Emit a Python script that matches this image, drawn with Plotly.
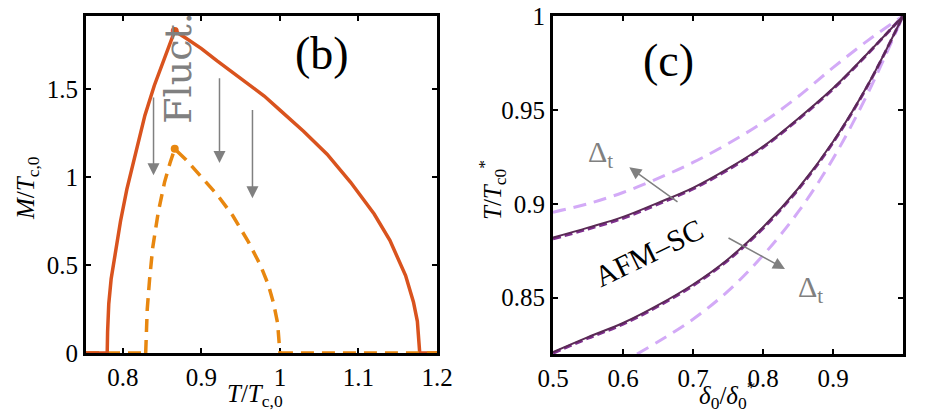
import plotly.graph_objects as go

# ---------------- Panel (b) data ----------------
red_T = [0.753, 0.780, 0.7805, 0.782, 0.785, 0.790, 0.797, 0.805, 0.815, 0.828, 0.840, 0.853, 0.866,
         0.880, 0.900, 0.920, 0.950, 0.980, 1.000, 1.030, 1.060, 1.090, 1.120, 1.140, 1.160, 1.170,
         1.175, 1.178, 1.200]
red_M = [0.0, 0.0, 0.12, 0.28, 0.42, 0.56, 0.75, 0.93, 1.12, 1.35, 1.52, 1.68, 1.83,
         1.79, 1.73, 1.66, 1.56, 1.46, 1.38, 1.26, 1.13, 0.97, 0.79, 0.64, 0.44, 0.29,
         0.18, 0.0, 0.0]
red_peak = [0.866, 1.83]

org_T = [0.829, 0.8295, 0.831, 0.834, 0.838, 0.845, 0.853, 0.860, 0.866,
         0.880, 0.900, 0.920, 0.940, 0.960, 0.975, 0.985, 0.992, 0.997, 1.000]
org_M = [0.0, 0.10, 0.25, 0.42, 0.60, 0.80, 0.97, 1.08, 1.16,
         1.10, 1.00, 0.90, 0.78, 0.63, 0.50, 0.39, 0.28, 0.17, 0.0]
org_zero_left = [0.753, 0.829]
org_zero_right = [1.0, 1.2]
org_peak = [0.866, 1.16]

# arrows: (T, M_tail, M_head)
fluct_arrows = [(0.839, 1.46, 1.01), (0.923, 1.57, 1.08), (0.965, 1.39, 0.88)]

# ---------------- Panel (c) data ----------------
d_x = [0.5, 0.55, 0.6, 0.65, 0.7, 0.75, 0.8, 0.85, 0.9, 0.95, 1.0]
up_solid = [0.882, 0.8873, 0.893, 0.9005, 0.9085, 0.9187, 0.9305, 0.9453, 0.9615, 0.9803, 1.0]
up_dash = [0.8813, 0.8866, 0.8923, 0.8998, 0.9079, 0.9181, 0.9300, 0.9448, 0.9611, 0.9800, 1.0]
lo_solid = [0.821, 0.829, 0.8365, 0.846, 0.857, 0.8705, 0.8875, 0.908, 0.933, 0.9635, 1.0]
lo_dash = [0.8204, 0.8284, 0.8359, 0.8454, 0.8564, 0.8699, 0.8869, 0.9075, 0.9326, 0.9632, 1.0]

lt_up_x = [0.5, 0.55, 0.6, 0.65, 0.7, 0.75, 0.8, 0.85, 0.9, 0.95, 1.0]
lt_up_y = [0.8955, 0.900, 0.906, 0.9135, 0.922, 0.932, 0.9434, 0.957, 0.9725, 0.987, 1.0]
lt_lo_x = [0.62, 0.65, 0.7, 0.75, 0.8, 0.85, 0.9, 0.95, 1.0]
lt_lo_y = [0.82, 0.8265, 0.8385, 0.8535, 0.8725, 0.8955, 0.924, 0.959, 1.0]

RED = "#D9531E"
ORANGE = "#E8870F"
DPURP = "#5A2A55"
MPURP = "#7E2F8E"
LPURP = "#D3AAF7"
GRAY = "#808080"
SERIF = "Liberation Serif"

fig = go.Figure()

# Panel (b)
fig.add_trace(go.Scatter(x=org_zero_left, y=[0, 0], mode="lines", xaxis="x", yaxis="y",
                         line=dict(color=ORANGE, width=3.5, dash="13px,8px"), cliponaxis=False))
fig.add_trace(go.Scatter(x=red_T, y=red_M, mode="lines", xaxis="x", yaxis="y",
                         line=dict(color=RED, width=3.5), cliponaxis=False))
fig.add_trace(go.Scatter(x=org_T, y=org_M, mode="lines", xaxis="x", yaxis="y",
                         line=dict(color=ORANGE, width=3.5, dash="13px,8px"), cliponaxis=False))
fig.add_trace(go.Scatter(x=org_zero_right, y=[0, 0], mode="lines", xaxis="x", yaxis="y",
                         line=dict(color=ORANGE, width=3.5, dash="13px,8px"), cliponaxis=False))
fig.add_trace(go.Scatter(x=[red_peak[0]], y=[red_peak[1]], mode="markers", xaxis="x", yaxis="y",
                         marker=dict(color=RED, size=8), cliponaxis=False))
fig.add_trace(go.Scatter(x=[org_peak[0]], y=[org_peak[1]], mode="markers", xaxis="x", yaxis="y",
                         marker=dict(color=ORANGE, size=8), cliponaxis=False))

# Panel (c)
fig.add_trace(go.Scatter(x=lt_up_x, y=lt_up_y, mode="lines", xaxis="x2", yaxis="y2",
                         line=dict(color=LPURP, width=3, dash="13px,8px", shape="spline")))
fig.add_trace(go.Scatter(x=lt_lo_x, y=lt_lo_y, mode="lines", xaxis="x2", yaxis="y2",
                         line=dict(color=LPURP, width=3, dash="13px,8px", shape="spline")))
fig.add_trace(go.Scatter(x=d_x, y=up_dash, mode="lines", xaxis="x2", yaxis="y2",
                         line=dict(color=MPURP, width=3, dash="8px,4px", shape="spline")))
fig.add_trace(go.Scatter(x=d_x, y=lo_dash, mode="lines", xaxis="x2", yaxis="y2",
                         line=dict(color=MPURP, width=3, dash="8px,4px", shape="spline")))
fig.add_trace(go.Scatter(x=d_x, y=up_solid, mode="lines", xaxis="x2", yaxis="y2",
                         line=dict(color=DPURP, width=2, shape="spline")))
fig.add_trace(go.Scatter(x=d_x, y=lo_solid, mode="lines", xaxis="x2", yaxis="y2",
                         line=dict(color=DPURP, width=2, shape="spline")))

axis_common = dict(showline=True, linecolor="black", linewidth=3, mirror="allticks",
                   ticks="inside", ticklen=5, tickwidth=2, tickcolor="black",
                   showgrid=False, zeroline=False, layer="below traces", automargin=False,
                   tickfont=dict(family=SERIF, size=25, color="black"))

fig.update_layout(
    width=946, height=413,
    margin=dict(l=0, r=0, t=0, b=0, autoexpand=False),
    paper_bgcolor="white", plot_bgcolor="white",
    showlegend=False,
    xaxis=dict(domain=[86 / 946, 437 / 946], range=[0.753, 1.2],
               tickvals=[0.8, 0.9, 1.0, 1.1, 1.2], ticktext=["0.8", "0.9", "1", "1.1", "1.2"],
               anchor="y", **axis_common),
    yaxis=dict(domain=[60 / 413, 397 / 413], range=[0, 1.915],
               tickvals=[0, 0.5, 1, 1.5], ticktext=["0", "0.5", "1", "1.5"],
               anchor="x", **axis_common),
    xaxis2=dict(domain=[553 / 946, 903 / 946], range=[0.5, 1.0],
                tickvals=[0.5, 0.6, 0.7, 0.8, 0.9], ticktext=["0.5", "0.6", "0.7", "0.8", "0.9"],
                anchor="y2", **axis_common),
    yaxis2=dict(domain=[59 / 413, 397 / 413], range=[0.82, 1.0],
                tickvals=[0.85, 0.9, 0.95, 1.0], ticktext=["0.85", "0.9", "0.95", "1"],
                anchor="x2", **axis_common),
)

C = dict(xanchor="center", yanchor="middle", showarrow=False)
ann = []
# axis titles
ann.append(dict(text="<i>T</i>/<i>T</i><sub>c,0</sub>", xref="paper", yref="paper",
                x=255 / 946, y=1 - 395 / 413, font=dict(family=SERIF, size=25, color="black"), **C))
ann.append(dict(text="<i>M</i>/<i>T</i><sub>c,0</sub>", xref="paper", yref="paper",
                x=27 / 946, y=1 - 188 / 413, textangle=-90,
                font=dict(family=SERIF, size=25, color="black"), **C))
ann.append(dict(text="<i>δ</i><sub>0</sub>/<i>δ</i><sub>0</sub><sup>*</sup>", xref="paper", yref="paper",
                x=727 / 946, y=1 - 395 / 413, font=dict(family=SERIF, size=25, color="black"), **C))
ann.append(dict(text="<i>T</i>/<i>T</i><sub>c0</sub><sup>*</sup>", xref="paper", yref="paper",
                x=492 / 946, y=1 - 190 / 413, textangle=-90,
                font=dict(family=SERIF, size=25, color="black"), **C))
# panel labels
ann.append(dict(text="(b)", xref="paper", yref="paper", x=322 / 946, y=1 - 53 / 413,
                font=dict(family=SERIF, size=46, color="black"), **C))
ann.append(dict(text="(c)", xref="paper", yref="paper", x=668 / 946, y=1 - 61 / 413,
                font=dict(family=SERIF, size=46, color="black"), **C))
# Fluct. text
ann.append(dict(text="Fluct.", xref="x", yref="y", x=0.870, y=1.62, textangle=-90,
                font=dict(family="DejaVu Serif", size=38, color=GRAY), **C))
# Fluct arrows
for t, m0, m1 in fluct_arrows:
    ann.append(dict(x=t, y=m1, ax=t, ay=m0, xref="x", yref="y", axref="x", ayref="y",
                    text="", showarrow=True, arrowhead=2, arrowsize=1.6, arrowwidth=1.5,
                    arrowcolor=GRAY))
# Panel (c) arrows
ann.append(dict(x=0.609, y=0.9194, ax=0.68, ay=0.9004, xref="x2", yref="y2", axref="x2", ayref="y2",
                text="", showarrow=True, arrowhead=2, arrowsize=1.6, arrowwidth=1.5, arrowcolor=GRAY))
ann.append(dict(x=0.8314, y=0.8653, ax=0.7486, ay=0.8822, xref="x2", yref="y2", axref="x2", ayref="y2",
                text="", showarrow=True, arrowhead=2, arrowsize=1.6, arrowwidth=1.5, arrowcolor=GRAY))
ann.append(dict(text="Δ<sub>t</sub>", xref="x2", yref="y2", x=0.568, y=0.9265,
                font=dict(family=SERIF, size=30, color=GRAY), **C))
ann.append(dict(text="Δ<sub>t</sub>", xref="x2", yref="y2", x=0.868, y=0.8545,
                font=dict(family=SERIF, size=30, color=GRAY), **C))
ann.append(dict(text="AFM–SC", xref="x2", yref="y2", x=0.637, y=0.8743,
                textangle=-26, font=dict(family=SERIF, size=30, color="black"), **C))

fig.update_layout(annotations=ann)
fig.write_html("out.html")
